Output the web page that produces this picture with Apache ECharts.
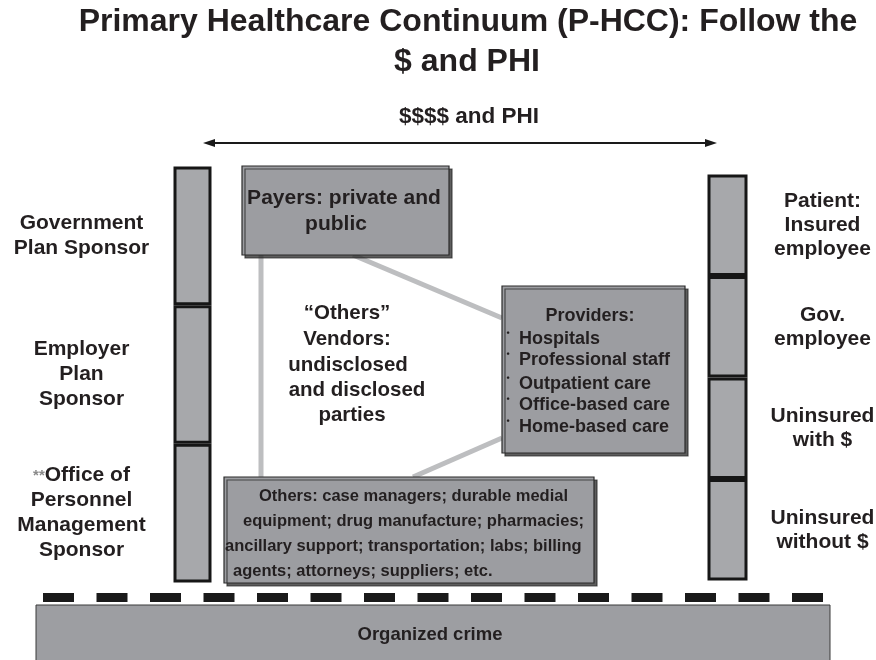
<!DOCTYPE html>
<html>
<head>
<meta charset="utf-8">
<script src="https://cdn.jsdelivr.net/npm/echarts@6/dist/echarts.min.js"></script>
<style>
html,body{margin:0;padding:0;background:#fff;}
#chart{width:876px;height:660px;}
</style>
</head>
<body>
<div id="chart"></div>
<script>
// ---- content ----
var titleLines = ['Primary Healthcare Continuum (P-HCC): Follow the', '$ and PHI'];
var flowLabel = '$$$$ and PHI';
var leftSegments = ['Government\nPlan Sponsor', 'Employer\nPlan\nSponsor', '{g|**}Office of\nPersonnel\nManagement\nSponsor'];
var leftValues = [1, 1, 1];
var rightSegments = ['Patient:\nInsured\nemployee', 'Gov.\nemployee', 'Uninsured\nwith $', 'Uninsured\nwithout $'];
var rightValues = [1, 1, 1, 1];
var payersLines = ['Payers: private and', 'public'];
var vendorsLines = ['\u201COthers\u201D', 'Vendors:', 'undisclosed', 'and disclosed', 'parties'];
var providersTitle = 'Providers:';
var providersItems = ['Hospitals', 'Professional staff', 'Outpatient care', 'Office-based care', 'Home-based care'];
var othersLines = ['Others: case managers; durable medial', 'equipment; drug manufacture; pharmacies;', 'ancillary support; transportation; labs; billing', 'agents; attorneys; suppliers; etc.'];
var crimeLabel = 'Organized crime';

// ---- styles ----
var FONT = '"Liberation Sans", Arial, Helvetica, sans-serif';
var TXT = '#231f20';
var BOX = '#9c9da1';
var PILLAR = '#a7a8ab';
var LINK = '#bdbec0';

function txt(text, x, y, size, align, extra) {
  var o = {
    type: 'text', z: 20,
    style: {
      text: text, x: x, y: y, fill: TXT,
      font: 'bold ' + size + 'px ' + FONT,
      textAlign: align || 'center', textVerticalAlign: 'middle'
    }
  };
  if (extra) for (var k in extra) o.style[k] = extra[k];
  return o;
}
function box(x, y, w, h, fill, stroke, lw, shadow) {
  var s = { fill: fill, stroke: stroke, lineWidth: lw };
  if (shadow) { s.shadowColor = 'rgba(40,40,40,0.75)'; s.shadowOffsetX = 3; s.shadowOffsetY = 3; s.shadowBlur = 0; }
  return { type: 'rect', z: 10, shape: { x: x, y: y, width: w, height: h }, style: s };
}
function link(x1, y1, x2, y2) {
  return { type: 'line', z: 5, shape: { x1: x1, y1: y1, x2: x2, y2: y2 }, style: { stroke: LINK, lineWidth: 5 } };
}

var graphics = [];
// title
graphics.push(txt(titleLines[0], 468, 22, 32));
graphics.push(txt(titleLines[1], 467, 62, 32));
graphics.push(txt(flowLabel, 469, 117, 22.5));
// double arrow
graphics.push({ type: 'line', z: 5, shape: { x1: 212, y1: 143, x2: 708, y2: 143 }, style: { stroke: '#1a1a1a', lineWidth: 2.2 } });
graphics.push({ type: 'polygon', z: 5, shape: { points: [[203, 143], [215, 139], [215, 147]] }, style: { fill: '#1a1a1a' } });
graphics.push({ type: 'polygon', z: 5, shape: { points: [[717, 143], [705, 139], [705, 147]] }, style: { fill: '#1a1a1a' } });
// connectors
graphics.push(link(261, 255, 261, 477));
graphics.push(link(353, 255, 502, 318));
graphics.push(link(502, 438, 413, 477));
// boxes
graphics.push(box(242, 166, 207, 89, BOX, '#2b2b2b', 1.2, true));
graphics.push(box(502, 286, 183, 167, BOX, '#2b2b2b', 1.2, true));
graphics.push(box(224, 477, 370, 106, BOX, '#2b2b2b', 1.2, true));
graphics.push(box(36, 605, 794, 70, '#9d9ea2', '#3a3a3a', 1, false));
// dashes
graphics.push({ type: 'line', z: 5, shape: { x1: 43, y1: 597.5, x2: 824, y2: 597.5 }, style: { stroke: '#1a1a1a', lineWidth: 9, lineDash: [31, 22.5] } });

// payers text
var payersX = [344, 336], payersY = [198, 224];
payersLines.forEach(function (t, i) { graphics.push(txt(t, payersX[i], payersY[i], 21)); });
// vendors text
var vendX = [347, 347, 348, 357, 352], vendY = [313, 339, 365, 390, 415];
vendorsLines.forEach(function (t, i) { graphics.push(txt(t, vendX[i], vendY[i], 20.5)); });
// providers
graphics.push(txt(providersTitle, 590, 316, 18));
var provY = [339, 360, 384, 405, 427];
providersItems.forEach(function (t, i) {
  graphics.push(txt(t, 519, provY[i], 18, 'left'));
  graphics.push(txt('\u2022', 508, provY[i] - 5, 9));
});
// others
var othX = [259, 243, 225, 233], othY = [496, 521, 546, 571];
othersLines.forEach(function (t, i) { graphics.push(txt(t, othX[i], othY[i], 16.5, 'left')); });
// crime
graphics.push(txt(crimeLabel, 430, 635, 18.5));

// pillars as stacked bars
var series = [];
var richG = { g: { color: '#8a8a8a', fontSize: 15, fontWeight: 'bold', fontFamily: FONT, lineHeight: 25 } };
leftSegments.forEach(function (lab, i) {
  series.push({
    type: 'bar', stack: 'left', xAxisIndex: 0, yAxisIndex: 0, barWidth: '100%',
    data: [leftValues[i]],
    itemStyle: { color: PILLAR, borderColor: '#161616', borderWidth: 3 },
    label: {
      show: true, formatter: lab, position: [-92, '50%'], align: 'center', verticalAlign: 'middle',
      color: TXT, fontSize: 21, fontWeight: 'bold', fontFamily: FONT, lineHeight: 25, rich: richG
    }
  });
});
rightSegments.forEach(function (lab, i) {
  series.push({
    type: 'bar', stack: 'right', xAxisIndex: 1, yAxisIndex: 1, barWidth: '100%',
    data: [rightValues[i]],
    itemStyle: { color: PILLAR, borderColor: '#161616', borderWidth: 3 },
    label: {
      show: true, formatter: lab, position: [115, '50%'], align: 'center', verticalAlign: 'middle',
      color: TXT, fontSize: 21, fontWeight: 'bold', fontFamily: FONT, lineHeight: 24
    }
  });
});

var hiddenCat = { type: 'category', data: ['p'], show: false, boundaryGap: true };
var chart = echarts.init(document.getElementById('chart'), null, { renderer: 'canvas' });
chart.setOption({
  animation: false,
  backgroundColor: '#ffffff',
  grid: [
    { left: 173.5, top: 166.5, width: 38, height: 416 },
    { left: 707.5, top: 174.5, width: 40, height: 406 }
  ],
  xAxis: [
    Object.assign({ gridIndex: 0 }, hiddenCat),
    Object.assign({ gridIndex: 1 }, hiddenCat)
  ],
  yAxis: [
    { type: 'value', gridIndex: 0, min: 0, max: 3, inverse: true, show: false },
    { type: 'value', gridIndex: 1, min: 0, max: 4, inverse: true, show: false }
  ],
  series: series,
  graphic: { elements: graphics }
});
</script>
</body>
</html>
